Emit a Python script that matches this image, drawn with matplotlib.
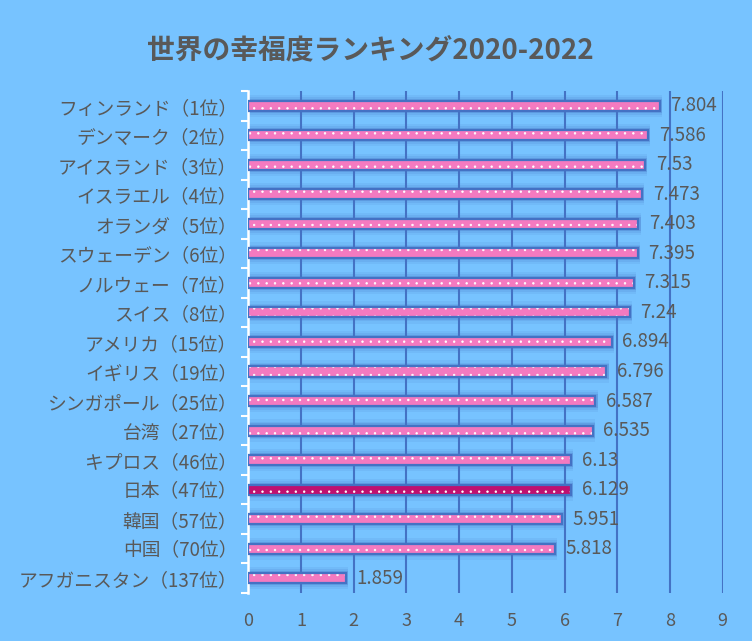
import numpy as np
import matplotlib.pyplot as plt

plt.rcParams['font.family'] = ['Noto Sans CJK JP', 'DejaVu Sans']
plt.rcParams['hatch.linewidth'] = 0.5

# data
countries = ['フィンランド（1位）', 'デンマーク（2位）', 'アイスランド（3位）', 'イスラエル（4位）',
             'オランダ（5位）', 'スウェーデン（6位）', 'ノルウェー（7位）', 'スイス（8位）',
             'アメリカ（15位）', 'イギリス（19位）', 'シンガポール（25位）', '台湾（27位）',
             'キプロス（46位）', '日本（47位）', '韓国（57位）', '中国（70位）', 'アフガニスタン（137位）']
scores = [7.804, 7.586, 7.53, 7.473, 7.403, 7.395, 7.315, 7.24,
          6.894, 6.796, 6.587, 6.535, 6.13, 6.129, 5.951, 5.818, 1.859]
highlight = '日本（47位）'
x_ticks = list(range(0, 10))

bg = '#77C3FF'
grid_blue = '#4472C4'
pink = '#F47AC0'
magenta = '#C0106F'
gray = '#595959'

fig = plt.figure(figsize=(7.52, 6.41), dpi=100, facecolor=bg)
ax = fig.add_axes([0.33, 0.075, 0.631, 0.783])
ax.set_facecolor(bg)

y = np.arange(len(countries))
colors = [magenta if c == highlight else pink for c in countries]
h = 0.34

# soft glow behind bars
for w, a in [(0.75, 0.10), (0.6, 0.15), (0.48, 0.25)]:
    ax.barh(y, np.array(scores) + 0.08, left=-0.04, height=w, color=grid_blue,
            alpha=a, linewidth=0, zorder=2)

ax.barh(y, scores, height=h, color=colors, linewidth=0, zorder=3)
ax.barh(y, scores, height=h, facecolor='none', edgecolor='white', hatch='..',
        linewidth=0, zorder=4)
ax.barh(y, scores, height=h, fill=False, edgecolor=grid_blue, linewidth=1.6, zorder=5)

for yi, v in zip(y, scores):
    ax.text(v + 0.2, yi, f'{v:g}', va='center', ha='left', fontsize=13.5,
            color=gray, zorder=6)

ax.set_xlim(0, 9)
ax.set_ylim(len(countries) - 0.5, -0.5)
ax.set_xticks(x_ticks)
ax.set_xticklabels([str(t) for t in x_ticks], fontsize=13, color=gray)
ax.tick_params(axis='x', length=0, pad=14)
ax.set_yticks(y)
ax.set_yticklabels(countries, fontsize=13.5, color=gray)
ax.tick_params(axis='y', which='major', length=0, pad=8)
ax.set_yticks(np.arange(-0.5, len(countries)), minor=True)
ax.tick_params(axis='y', which='minor', length=5, width=1.5, color='white')

for gx in x_ticks[1:]:
    ax.axvline(gx, color=grid_blue, linewidth=1.5, zorder=1)

for s in ['top', 'right', 'bottom']:
    ax.spines[s].set_visible(False)
ax.spines['left'].set_color('white')
ax.spines['left'].set_linewidth(1.8)

fig.text(0.492, 0.922, '世界の幸福度ランキング2020-2022', ha='center', va='center',
         fontsize=20, fontweight='bold', color=gray)

fig.savefig('out.png', dpi=100, facecolor=bg)
